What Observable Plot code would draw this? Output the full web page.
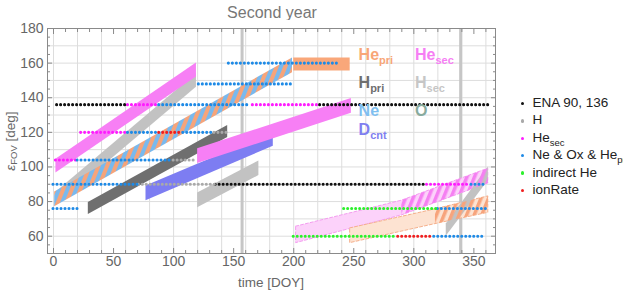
<!DOCTYPE html>
<html><head><meta charset="utf-8">
<script src="https://cdn.jsdelivr.net/npm/d3@7"></script>
<script src="https://cdn.jsdelivr.net/npm/@observablehq/plot@0.6"></script>
<style>
body{margin:0;background:#fff;font-family:"Liberation Sans",Arial,sans-serif;}
#wrap{position:relative;width:623px;height:292px;overflow:hidden;}
#title{position:absolute;left:0;top:4px;width:544px;text-align:center;font-size:16px;color:#777;}
#chart{position:absolute;left:0;top:20px;}
#legend{position:absolute;left:521px;top:94px;font-size:13.5px;color:#222;}
.li{height:17.4px;line-height:17px;white-space:nowrap;}
.dot{display:inline-block;width:3.4px;height:3.4px;border-radius:50%;margin-right:8px;vertical-align:middle}
sub{font-size:9.5px;}
</style></head>
<body><div id="wrap"><div id="title">Second year</div><div id="chart"></div><div id="legend"></div></div>
<script>
// ---- axis ticks ----
const xTicks = [0, 50, 100, 150, 200, 250, 300, 350];
const yTicks = [60, 80, 100, 120, 140, 160, 180];
const xGrid = [0, 20, 40, 60, 80, 100, 120, 140, 160, 180, 200, 220, 240, 260, 280, 300, 320, 340, 360];
const yGrid = [60, 70, 80, 90, 100, 110, 120, 130, 140, 150, 160, 170, 180];
const xMinor = [10, 20, 30, 40, 60, 70, 80, 90, 110, 120, 130, 140, 160, 170, 180, 190, 210, 220, 230, 240, 260, 270, 280, 290, 310, 320, 330, 340, 360];
const yMinor = [55, 65, 70, 75, 85, 90, 95, 105, 110, 115, 125, 130, 135, 145, 150, 155, 165, 170, 175];
const markerDays = [157, 339];

// ---- dotted series: [deg, fromDay, toDay] ----
const dotNames = ["ENA 90, 136", "H", "He<sub>sec</sub>", "Ne &amp; Ox &amp; He<sub>pri</sub>", "indirect He", "ionRate"];
const dotColors = ["#111111", "#a9a9a9", "#ff1cff", "#1e8ae6", "#2cf02c", "#f01e1e"];
const segENA = [[136, 3, 60], [136, 222, 362], [90, 135, 310]];
const segH = [[104, 100, 118], [90, 71, 135], [120, 134, 145]];
const segHeSec = [[136, 62, 88], [136, 166, 221], [120, 23, 62], [104, 2, 20], [90, 311, 347]];
const segNe = [[136, 88, 164], [160, 146, 239], [148, 121, 198], [120, 62, 87], [120, 108, 132], [104, 20, 99], [90, 0, 70], [90, 348, 360], [76, 0, 21], [76, 320, 362], [60, 317, 360]];
const segIndirect = [[76, 242, 319], [60, 200, 286]];
const segIon = [[120, 88, 107], [60, 287, 316]];
const segAll = [segENA, segH, segHeSec, segNe, segIndirect, segIon];

// ---- bands: [day, lowDeg, highDeg] ----
const bandHSecA   = [[3, 78, 86], [119, 146, 154]];
const bandHeSecA  = [[2, 96.5, 104.5], [119, 152, 160]];
const bandStriped = [[1, 77, 85.5], [199, 154.5, 163]];
const bandHePri   = [[200, 155.5, 163], [247, 155.5, 163]];
const bandHPri    = [[29, 72.5, 79.5], [145, 117, 124]];
const bandDcnt    = [[77, 80.5, 89], [183, 112, 120]];
const bandHSecB   = [[120, 76.5, 85], [171, 95, 103.5]];
const bandHeSecB  = [[120, 102, 110.5], [248, 131, 139.5]];
const bandPinkFaint   = [[202, 56, 65.5], [290, 72, 80.5], [362, 90.5, 99]];
const bandPinkHatch   = [[290, 72, 80.5], [362, 90.5, 99]];
const bandOrangeFaint = [[247, 56, 64.5], [318, 67, 75.5], [362, 73.5, 83]];
const bandOrangeHatch = [[318, 67, 75.5], [362, 73.5, 83]];
const bandGraySteep   = [[327, 60, 67], [362, 92, 100]];

// ---- in-plot labels ----
const labMain = ["He", "He", "H", "H", "Ne", "O", "D"];
const labSub  = ["pri", "sec", "pri", "sec", "", "", "cnt"];
const labDay  = [254, 301, 254, 301, 254, 301, 254];
const labDeg  = [165, 165, 148.8, 148.8, 132.6, 132.6, 121.3];
const labColor = ["#f8a677", "#f67ef4", "#6e6e6e", "#c6c6c6", "#7fbff0", "#88ab9e", "#7f7ff0"];

const toRows = b => b.map(([day, lo, hi]) => ({day, lo, hi}));
const band = (b, opts) => Plot.areaY(toRows(b), {x: "day", y1: "lo", y2: "hi", ...opts});

const segRows = [];
segAll.forEach((segs, i) => segs.forEach(([deg, x1, x2]) => segRows.push({deg, x1, x2, color: dotColors[i]})));
const labels = labMain.map((m, i) => ({main: m, sub: labSub[i], day: labDay[i], deg: labDeg[i], color: labColor[i]}));

const font = '"Liberation Sans", Arial, sans-serif';
const svg = Plot.plot({
  width: 623, height: 272,
  marginLeft: 47, marginRight: 128, marginTop: 8, marginBottom: 39,
  x: {domain: [-5, 368]},
  y: {domain: [50, 180]},
  style: {fontFamily: font, fontSize: "14px", color: "#666", background: "white", overflow: "visible"},
  marks: [
    Plot.ruleX(xGrid, {stroke: "#dddddd", strokeWidth: 1}),
    Plot.ruleY(yGrid, {stroke: "#dddddd", strokeWidth: 1}),
    Plot.ruleX(markerDays, {stroke: "#c6c6c6", strokeWidth: 3}),
    band(bandHSecA, {fill: "#c2c2c2"}),
    band(bandHeSecA, {fill: "#f77ff5"}),
    band(bandStriped, {fill: "url(#stripeNeHe)"}),
    band(bandHePri, {fill: "#f9a77a"}),
    band(bandHPri, {fill: "#6f6f6f"}),
    band(bandDcnt, {fill: "#7d7df2"}),
    band(bandHSecB, {fill: "#c2c2c2"}),
    band(bandHeSecB, {fill: "#f77ff5"}),
    band(bandPinkFaint, {fill: "#fcd2fa", stroke: "#f49cf0", strokeDasharray: "3 2", strokeWidth: 1}),
    band(bandOrangeFaint, {fill: "#fde3d2", stroke: "#f5b08c", strokeDasharray: "3 2", strokeWidth: 1}),
    band(bandGraySteep, {fill: "#c2c2c2"}),
    band(bandPinkHatch, {fill: "url(#hatchPink)"}),
    band(bandOrangeHatch, {fill: "url(#hatchOrange)"}),
    Plot.ruleY(segRows, {y: "deg", x1: "x1", x2: "x2", stroke: "color", strokeWidth: 3.1, strokeLinecap: "round", strokeDasharray: "0 4"}),
    Plot.text(labels, {x: "day", y: "deg", text: "main", fill: "color", fontWeight: "bold", fontSize: 16, textAnchor: "start"}),
    Plot.frame({stroke: "#8a8a8a"}),
    Plot.axisX(xTicks, {anchor: "bottom", tickSize: 0, tickPadding: 3, label: null, fill: "#666", fontSize: 14}),
    Plot.axisY(yTicks, {anchor: "left", tickSize: 0, tickPadding: 4, label: null, fill: "#666", fontSize: 14}),
    Plot.axisX(xTicks, {anchor: "bottom", tickSize: -5, tickFormat: () => "", label: null, stroke: "#8a8a8a"}),
    Plot.axisX(xTicks, {anchor: "top", tickSize: -5, tickFormat: () => "", label: null, stroke: "#8a8a8a"}),
    Plot.axisX(xMinor, {anchor: "bottom", tickSize: -3, tickFormat: () => "", label: null, stroke: "#8a8a8a"}),
    Plot.axisX(xMinor, {anchor: "top", tickSize: -3, tickFormat: () => "", label: null, stroke: "#8a8a8a"}),
    Plot.axisY(yTicks, {anchor: "left", tickSize: -5, tickFormat: () => "", label: null, stroke: "#8a8a8a"}),
    Plot.axisY(yTicks, {anchor: "right", tickSize: -5, tickFormat: () => "", label: null, stroke: "#8a8a8a"}),
    Plot.axisY(yMinor, {anchor: "left", tickSize: -3, tickFormat: () => "", label: null, stroke: "#8a8a8a"}),
    Plot.axisY(yMinor, {anchor: "right", tickSize: -3, tickFormat: () => "", label: null, stroke: "#8a8a8a"})
  ]
});

// patterns
const s = d3.select(svg);
const defs = s.insert("defs", ":first-child");
const p1 = defs.append("pattern").attr("id", "stripeNeHe").attr("patternUnits", "userSpaceOnUse")
  .attr("width", 8).attr("height", 8).attr("patternTransform", "rotate(22)");
p1.append("rect").attr("width", 8).attr("height", 8).attr("fill", "#79b9ee");
p1.append("rect").attr("width", 4).attr("height", 8).attr("fill", "#f6a47a");
const p2 = defs.append("pattern").attr("id", "hatchPink").attr("patternUnits", "userSpaceOnUse")
  .attr("width", 7).attr("height", 7).attr("patternTransform", "rotate(22)");
p2.append("rect").attr("width", 3.5).attr("height", 7).attr("fill", "#f580f2");
const p3 = defs.append("pattern").attr("id", "hatchOrange").attr("patternUnits", "userSpaceOnUse")
  .attr("width", 7).attr("height", 7).attr("patternTransform", "rotate(22)");
p3.append("rect").attr("width", 3.5).attr("height", 7).attr("fill", "#f7a47c");

// subscripts on in-plot labels
s.selectAll('g[aria-label="text"] text').each(function(d, i) {
  const sub = labels[i] && labels[i].sub;
  if (sub) d3.select(this).append("tspan").attr("dy", 4).attr("font-size", 11).text(sub);
});

// axis labels
const yl = s.append("text").attr("transform", "translate(11,121) rotate(-90)").attr("text-anchor", "middle")
  .attr("dominant-baseline", "middle")
  .attr("fill", "#666").attr("font-size", 13.5).attr("font-family", font);
yl.append("tspan").attr("font-style", "italic").text("ε");
yl.append("tspan").attr("dy", 3).attr("font-size", 9.5).text("FOV");
yl.append("tspan").attr("dy", -3).text(" [deg]");
s.append("text").attr("x", 271).attr("y", 263).attr("text-anchor", "middle").attr("dominant-baseline", "middle")
  .attr("fill", "#666").attr("font-size", 13.5).attr("font-family", font).text("time [DOY]");

document.getElementById("chart").appendChild(svg);

// legend
const leg = document.getElementById("legend");
dotNames.forEach((n, i) => {
  const div = document.createElement("div");
  div.className = "li";
  div.innerHTML = `<span class="dot" style="background:${dotColors[i]}"></span>${n}`;
  leg.appendChild(div);
});
</script></body></html>
